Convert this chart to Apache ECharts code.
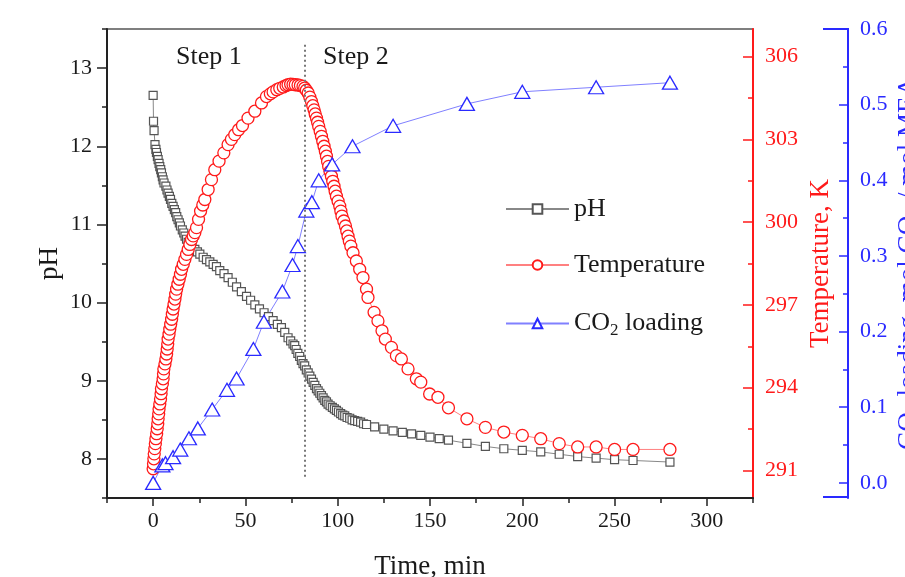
<!DOCTYPE html>
<html><head><meta charset="utf-8">
<script src="https://cdn.jsdelivr.net/npm/echarts@6/dist/echarts.min.js"></script>
<style>html,body{margin:0;padding:0;background:#fff}#c{width:905px;height:577px}</style>
</head><body><div id="c"></div>
<script>
const phTime = [0,0.2,0.5,1.0,1.5,1.8,2.3,2.7,3.2,3.6,4.1,4.5,5.0,5.4,5.9,6.9,7.5,8.1,8.8,9.4,10.1,10.8,11.5,12.2,12.8,13.5,14.2,14.8,15.8,16.6,17.3,18.1,19.0,19.9,21.0,22.6,24.0,25.3,27.1,28.9,30.7,32.5,34.3,36.1,38.4,40.6,42.9,45.2,47.8,50.6,52.8,55.1,57.6,60.1,62.5,65.0,67.3,69.5,71.3,73.1,74.5,75.8,76.7,77.5,78.4,79.4,80.3,81.2,82.1,83.0,84.0,84.9,85.8,86.7,87.6,88.5,89.4,90.3,91.2,92.1,93.0,93.9,94.8,95.9,97.1,98.2,99.3,100.4,101.6,102.7,103.8,105.1,106.5,107.8,109.2,110.8,112.4,114.0,115.6,120,125,130,135,140,145,150,155,160,170,180,190,200,210,220,230,240,250,260,280];
const phValue = [12.65,12.32,12.20,12.02,11.96,11.92,11.87,11.83,11.78,11.74,11.70,11.66,11.61,11.57,11.53,11.49,11.44,11.40,11.36,11.32,11.27,11.23,11.19,11.15,11.10,11.06,11.02,10.98,10.93,10.89,10.85,10.81,10.77,10.74,10.71,10.68,10.65,10.62,10.58,10.55,10.52,10.49,10.46,10.41,10.37,10.32,10.26,10.20,10.14,10.08,10.03,9.97,9.92,9.87,9.82,9.77,9.72,9.68,9.62,9.55,9.51,9.47,9.45,9.40,9.35,9.31,9.26,9.22,9.19,9.14,9.10,9.06,9.02,8.98,8.94,8.90,8.87,8.84,8.81,8.78,8.75,8.73,8.70,8.68,8.66,8.64,8.62,8.60,8.58,8.56,8.55,8.53,8.52,8.50,8.49,8.48,8.47,8.45,8.44,8.41,8.38,8.36,8.34,8.32,8.30,8.28,8.26,8.24,8.20,8.16,8.13,8.11,8.09,8.06,8.03,8.01,7.99,7.98,7.96];

const tempTime = [0,0.2,0.4,0.6,0.9,1.2,1.5,1.9,2.2,2.5,2.7,3.0,3.2,3.6,4.0,4.3,4.5,5.0,5.4,5.6,5.8,6.4,6.9,7.3,7.6,7.9,8.1,8.6,9.0,9.5,10.0,10.4,10.8,11.3,11.8,12.2,12.7,13.4,14.1,14.8,15.4,16.3,17.2,18.1,19.0,19.9,20.8,21.7,22.6,23.5,24.6,25.7,26.9,28.0,29.8,31.6,33.4,35.7,38.3,40.6,42.4,44.2,46.3,48.4,51.4,55.1,58.7,61.4,63.5,65.0,67.0,68.6,70.5,72.0,73.1,74.5,75.8,77.0,78.5,79.8,81.2,82.1,83.0,84.0,84.9,85.8,86.5,87.2,87.8,88.5,89.1,89.7,90.5,91.2,91.9,92.6,93.3,93.9,94.5,95.1,95.8,96.6,97.3,98.0,98.6,99.3,100.2,101.1,101.7,102.3,103.3,104.2,104.9,105.6,106.3,107.1,108.3,110.1,111.9,113.7,115.6,116.4,119.7,121.8,124.0,125.8,129.1,131.8,134.5,138.1,142.6,145.0,149.8,154.3,160,170,180,190,200,210,220,230,240,250,260,280];
const tempValue = [291.06,291.24,291.42,291.60,291.79,291.97,292.15,292.33,292.51,292.69,292.87,293.05,293.23,293.41,293.59,293.78,293.96,294.14,294.32,294.50,294.68,294.86,295.04,295.22,295.40,295.58,295.76,295.94,296.12,296.30,296.48,296.66,296.85,297.03,297.21,297.39,297.57,297.75,297.93,298.11,298.29,298.47,298.65,298.83,299.01,299.19,299.37,299.50,299.62,299.80,300.10,300.40,300.62,300.82,301.18,301.54,301.90,302.21,302.51,302.81,303.00,303.17,303.35,303.50,303.77,304.02,304.32,304.55,304.65,304.72,304.80,304.85,304.90,304.95,304.98,305.00,304.99,304.98,304.97,304.95,304.92,304.86,304.78,304.68,304.53,304.37,304.22,304.07,303.92,303.77,303.62,303.47,303.29,303.11,302.93,302.75,302.57,302.39,302.20,302.02,301.84,301.66,301.48,301.30,301.12,300.94,300.76,300.58,300.40,300.22,300.04,299.86,299.68,299.49,299.31,299.13,298.89,298.59,298.29,297.99,297.57,297.27,296.73,296.42,296.06,295.76,295.46,295.16,295.04,294.68,294.32,294.20,293.77,293.65,293.27,292.87,292.56,292.39,292.27,292.15,291.97,291.85,291.85,291.76,291.76,291.76];

const co2Time = [0,5,6.7,10.8,14.7,19.4,24.2,32,40,45.2,54.3,60,70,75.5,78.4,83,86,89.7,97,108,130,170,200,240,280];
const co2Value = [0.0,0.023,0.026,0.034,0.044,0.059,0.072,0.097,0.123,0.138,0.177,0.213,0.253,0.288,0.313,0.360,0.371,0.400,0.421,0.445,0.472,0.501,0.517,0.523,0.529];

const timeLabels = [0,50,100,150,200,250,300];
const phLabels = [8,9,10,11,12,13];
const tempLabels = [291,294,297,300,303,306];
const co2Labels = [0,0.1,0.2,0.3,0.4,0.5,0.6];
const stepBoundary = 82;

const FONT = 'Liberation Serif';
const RED = '#ff1a1a', BLUE = '#2a2aff';
const zip = (a,b) => a.map((v,i)=>[v,b[i]]);
const range = (a,b,s) => { const r=[]; for(let v=a; v<=b+1e-9; v+=s) r.push(+v.toFixed(4)); return r; };

const chart = echarts.init(document.getElementById('c'), null, {renderer:'canvas'});
const tickFont = {fontFamily:FONT, fontSize:22, color:'#1a1a1a'};
const nameFont = {fontFamily:FONT, fontSize:27, color:'#1a1a1a'};

const option = {
  backgroundColor:'#fff',
  animation:false,
  grid:{left:107, top:29, right:152, bottom:79, show:true, borderColor:'#555', borderWidth:1.5,
        containLabel:false, outerBoundsMode:'none'},
  legend:{
    orient:'vertical', left:500, top:191, itemWidth:63, itemHeight:12, itemGap:30,
    data:['pH','Temperature','CO2 loading'],
    formatter: n => n==='CO2 loading' ? '{a|CO}{s|2}{a| loading}' : '{a|'+n+'}',
    textStyle:{rich:{
      a:{fontFamily:FONT, fontSize:26, color:'#1a1a1a', lineHeight:30},
      s:{fontFamily:FONT, fontSize:17, color:'#1a1a1a', lineHeight:30, padding:[14,0,0,0]}
    }}
  },
  xAxis:[
    {type:'value', min:-25, max:325, interval:25, position:'bottom',
     axisLine:{show:true, onZero:false, lineStyle:{color:'#222', width:2}},
     axisTick:{show:true, length:5, lineStyle:{color:'#222', width:1.5}},
     axisLabel:{show:false}, splitLine:{show:false},
     name:'Time, min', nameLocation:'middle', nameGap:55, nameTextStyle:nameFont},
    {type:'value', min:-25, max:325, position:'bottom',
     axisLine:{show:false, onZero:false},
     axisTick:{show:true, length:8, customValues:timeLabels, lineStyle:{color:'#222', width:1.5}},
     axisLabel:{show:true, customValues:timeLabels, margin:12, ...tickFont},
     splitLine:{show:false}}
  ],
  yAxis:[
    {type:'value', min:7.5, max:13.5, interval:0.5, position:'left',
     axisLine:{show:true, onZero:false, lineStyle:{color:'#222', width:2}},
     axisTick:{show:true, length:5, lineStyle:{color:'#222', width:1.5}},
     axisLabel:{show:false}, splitLine:{show:false},
     name:'pH', nameLocation:'middle', nameGap:44, nameTextStyle:nameFont},
    {type:'value', min:7.5, max:13.5, position:'left',
     axisLine:{show:false, onZero:false},
     axisTick:{show:true, length:10, customValues:phLabels, lineStyle:{color:'#222', width:1.5}},
     axisLabel:{show:true, customValues:phLabels, margin:15, ...tickFont},
     splitLine:{show:false}},
    {type:'value', min:290, max:307, position:'right',
     axisLine:{show:true, onZero:false, lineStyle:{color:RED, width:2}},
     axisTick:{show:true, inside:true, length:5, customValues:range(291,306,1.5), lineStyle:{color:RED, width:1.5}},
     axisLabel:{show:false}, splitLine:{show:false},
     name:'Temperature, K', nameLocation:'middle', nameRotate:90, nameGap:54,
     nameTextStyle:{fontFamily:FONT, fontSize:27, color:RED}},
    {type:'value', min:290, max:307, position:'right',
     axisLine:{show:false, onZero:false},
     axisTick:{show:true, inside:true, length:10, customValues:tempLabels, lineStyle:{color:RED, width:1.5}},
     axisLabel:{show:true, customValues:tempLabels, margin:12, fontFamily:FONT, fontSize:22, color:RED},
     splitLine:{show:false}},
    {type:'value', min:-0.02, max:0.6, position:'right', offset:95,
     axisLine:{show:true, onZero:false, lineStyle:{color:BLUE, width:2}},
     axisTick:{show:true, inside:true, length:5, customValues:range(0,0.6,0.05), lineStyle:{color:BLUE, width:1.5}},
     axisLabel:{show:false}, splitLine:{show:false},
     name:'{a|CO}{s|2}{a| loading, mol CO}{s|2}{a| / mol MEA}', nameLocation:'middle', nameRotate:90, nameGap:45,
     nameTextStyle:{rich:{
       a:{fontFamily:FONT, fontSize:27, color:BLUE, lineHeight:32},
       s:{fontFamily:FONT, fontSize:18, color:BLUE, lineHeight:32, padding:[14,0,0,0]}
     }}},
    {type:'value', min:-0.02, max:0.6, position:'right', offset:95,
     axisLine:{show:false, onZero:false},
     axisTick:{show:true, inside:true, length:9, customValues:co2Labels, lineStyle:{color:BLUE, width:1.5}},
     axisLabel:{show:true, customValues:co2Labels, margin:12, fontFamily:FONT, fontSize:22, color:BLUE,
       formatter:v=>(+v).toFixed(1)},
     splitLine:{show:false}}
  ],
  graphic:[
    {type:'line', shape:{x1:823, y1:29, x2:849, y2:29}, style:{stroke:BLUE, lineWidth:2}},
    {type:'line', shape:{x1:823, y1:497, x2:849, y2:497}, style:{stroke:BLUE, lineWidth:2}},
    {type:'text', left:176, top:44, style:{text:'Step 1', fontFamily:FONT, fontSize:26, fill:'#1a1a1a'}},
    {type:'text', left:323, top:44, style:{text:'Step 2', fontFamily:FONT, fontSize:26, fill:'#1a1a1a'}}
  ],
  series:[
    {name:'pH', type:'line', xAxisIndex:0, yAxisIndex:0, data:zip(phTime,phValue),
     symbol:'rect', symbolSize:8, showAllSymbol:true,
     itemStyle:{color:'#fff', borderColor:'#555', borderWidth:1.2},
     lineStyle:{color:'#888', width:1},
     markLine:{silent:true, symbol:['none','none'], label:{show:false},
       lineStyle:{color:'#777', type:[2,3], width:2},
       data:[[{coord:[stepBoundary,13.3]},{coord:[stepBoundary,7.75]}]]}},
    {name:'Temperature', type:'line', xAxisIndex:0, yAxisIndex:2, data:zip(tempTime,tempValue),
     symbol:'circle', symbolSize:12, showAllSymbol:true,
     itemStyle:{color:'#fff', borderColor:RED, borderWidth:1.3},
     lineStyle:{color:'#ff8080', width:1}},
    {name:'CO2 loading', type:'line', xAxisIndex:0, yAxisIndex:4, data:zip(co2Time,co2Value),
     symbol:'triangle', symbolSize:[15,13], showAllSymbol:true,
     itemStyle:{color:'#fff', borderColor:BLUE, borderWidth:1.3},
     lineStyle:{color:'#8080ff', width:1}}
  ]
};
chart.setOption(option);
</script></body></html>
